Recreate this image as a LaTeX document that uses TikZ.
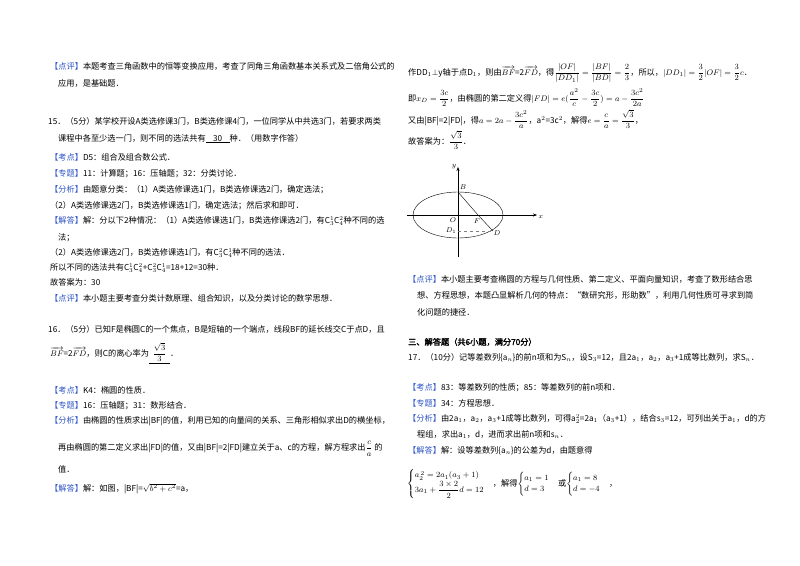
\documentclass[tikz,border=0pt]{standalone}
\usepackage{amsmath}
\usepackage{fontspec}
\setmainfont[AutoFakeBold=2]{Noto Sans CJK SC}
\usetikzlibrary{arrows.meta}
\definecolor{labblue}{HTML}{2F55C8}
\newcommand\lab[1]{\textcolor{labblue}{【#1】}}
\tikzset{ln/.style={anchor=base west,inner sep=0pt,font=\fontsize{8.2}{9.5}\selectfont},
 pt/.style={inner sep=0.5pt,font=\fontsize{7.5}{8}\selectfont}}
\begin{document}
\begin{tikzpicture}[x=1pt,y=-1pt]
\useasboundingbox[fill=white] (0,0) rectangle (800,565);
% left column
\node[ln] (l1) at (50,69) {\lab{点评}本题考查三角函数中的恒等变换应用，考查了同角三角函数基本关系式及二倍角公式的};
\node[ln] (l2) at (58,86) {应用，是基础题．};
\node[ln] (l3) at (48,124) {15．（5分）某学校开设A类选修课3门，B类选修课4门，一位同学从中共选3门，若要求两类};
\node[ln] (l4) at (58,141) {课程中各至少选一门，则不同的选法共有\underline{\ \ \ \ 30\ \ \ \ }种．（用数字作答）};
\node[ln] (l5) at (50,160) {\lab{考点}D5：组合及组合数公式．};
\node[ln] (l6) at (50,176) {\lab{专题}11：计算题；16：压轴题；32：分类讨论．};
\node[ln] (l7) at (50,192) {\lab{分析}由题意分类：（1）A类选修课选1门，B类选修课选2门，确定选法；};
\node[ln] (l8) at (50,208) {（2）A类选修课选2门，B类选修课选1门，确定选法；然后求和即可．};
\node[ln] (l9) at (50,223) {\lab{解答}解：分以下2种情况：（1）A类选修课选1门，B类选修课选2门，有C$_3^1$C$_4^2$种不同的选};
\node[ln] (l10) at (58,240) {法；};
\node[ln] (l11) at (50,255) {（2）A类选修课选2门，B类选修课选1门，有C$_3^2$C$_4^1$种不同的选法．};
\node[ln] (l12) at (50,270) {所以不同的选法共有C$_3^1$C$_4^2$+C$_3^2$C$_4^1$=18+12=30种．};
\node[ln] (l13) at (50,285) {故答案为：30};
\node[ln] (l14) at (50,301) {\lab{点评}本小题主要考查分类计数原理、组合知识，以及分类讨论的数学思想．};
\node[ln] (l15) at (48,332) {16．（5分）已知F是椭圆C的一个焦点，B是短轴的一个端点，线段BF的延长线交C于点D，且};
\node[ln] (l16) at (50,356) {$\overrightarrow{BF}$=2$\overrightarrow{FD}$，则C的离心率为\underline{\ \ $\dfrac{\sqrt{3}}{3}$\ \ }．};
\node[ln] (l17) at (50,393) {\lab{考点}K4：椭圆的性质．};
\node[ln] (l18) at (50,408) {\lab{专题}16：压轴题；31：数形结合．};
\node[ln] (l19) at (50,423) {\lab{分析}由椭圆的性质求出|BF|的值，利用已知的向量间的关系、三角形相似求出D的横坐标，};
\node[ln] (l20) at (58,450) {再由椭圆的第二定义求出|FD|的值，又由|BF|=2|FD|建立关于a、c的方程，解方程求出$\dfrac{c}{a}$ 的};
\node[ln] (l21) at (58,472) {值．};
\node[ln] (l22) at (50,491) {\lab{解答}解：如图，|BF|=$\sqrt{b^2+c^2}$=a，};
% right column
\node[ln] (r1) at (408,75) {作DD$_1$$\perp$y轴于点D$_1$，则由$\overrightarrow{BF}$=2$\overrightarrow{FD}$，得$\dfrac{|OF|}{|DD_1|}=\dfrac{|BF|}{|BD|}=\dfrac{2}{3}$，所以，$|DD_1|=\dfrac{3}{2}|OF|=\dfrac{3}{2}c$．};
\node[ln] (r2) at (408,101) {即$x_D=\dfrac{3c}{2}$，由椭圆的第二定义得$|FD|=e(\dfrac{a^2}{c}-\dfrac{3c}{2})=a-\dfrac{3c^2}{2a}$};
\node[ln] (r3) at (408,123) {又由|BF|=2|FD|，得$a=2a-\dfrac{3c^2}{a}$，a$^2$=3c$^2$，解得$e=\dfrac{c}{a}=\dfrac{\sqrt{3}}{3}$，};
\node[ln] (r4) at (408,144) {故答案为：$\dfrac{\sqrt{3}}{3}$．};
% figure
\coordinate (xs) at (407,215); \coordinate (xe) at (537,215);
\coordinate (ys) at (458,257); \coordinate (ye) at (458,167);
\draw[thin] (458,215) ellipse[x radius=45,y radius=23];
\draw[thin,-{Stealth[length=4pt]}] (xs) -- (xe);
\draw[thin,-{Stealth[length=4pt]}] (ys) -- (ye);
\coordinate (B) at (458,192); \coordinate (F) at (478,215);
\coordinate (D) at (493,231); \coordinate (D1) at (458,231);
\draw[thin] (B) -- (F) -- (D);
\draw[thin,dashed,gray] (D1) -- (D);
\node[pt] (lx) at (541,217) {$x$};
\node[pt] (ly) at (454,167) {$y$};
\node[pt] (lB) at (463,187) {$B$};
\node[pt] (lO) at (453,220) {$O$};
\node[pt] (lF) at (477,221) {$F$};
\node[pt] (lD1) at (451,231) {$D_1$};
\node[pt] (lD) at (497,233) {$D$};
\node[ln] (r5) at (408,282) {\lab{点评}本小题主要考查椭圆的方程与几何性质、第二定义、平面向量知识，考查了数形结合思};
\node[ln] (r6) at (417,298) {想、方程思想，本题凸显解析几何的特点：“数研究形，形助数”，利用几何性质可寻求到简};
\node[ln] (r7) at (417,315) {化问题的捷径．};
\node[ln] (r8) at (408,345) {\textbf{三、解答题（共6小题，满分70分）}};
\node[ln] (r9) at (408,360) {17．（10分）记等差数列\{a$_n$\}的前n项和为S$_n$，设S$_3$=12，且2a$_1$，a$_2$，a$_3$+1成等比数列，求S$_n$．};
\node[ln] (r10) at (408,390) {\lab{考点}83：等差数列的性质；85：等差数列的前n项和．};
\node[ln] (r11) at (408,406) {\lab{专题}34：方程思想．};
\node[ln] (r12) at (408,421) {\lab{分析}由2a$_1$，a$_2$，a$_3$+1成等比数列，可得a$_2^2$=2a$_1$（a$_3$+1），结合s$_3$=12，可列出关于a$_1$，d的方};
\node[ln] (r13) at (417,437) {程组，求出a$_1$，d，进而求出前n项和s$_n$．};
\node[ln] (r14) at (408,453) {\lab{解答}解：设等差数列\{a$_n$\}的公差为d，由题意得};
\node[ln,anchor=west] (r15) at (407,484) {$\begin{cases} a_2^{\,2}=2a_1(a_3+1)\\ 3a_1+\dfrac{3\times 2}{2}d=12\end{cases}$，解得$\begin{cases} a_1=1\\ d=3\end{cases}$或$\begin{cases} a_1=8\\ d=-4\end{cases}$，};
\end{tikzpicture}
\end{document}
